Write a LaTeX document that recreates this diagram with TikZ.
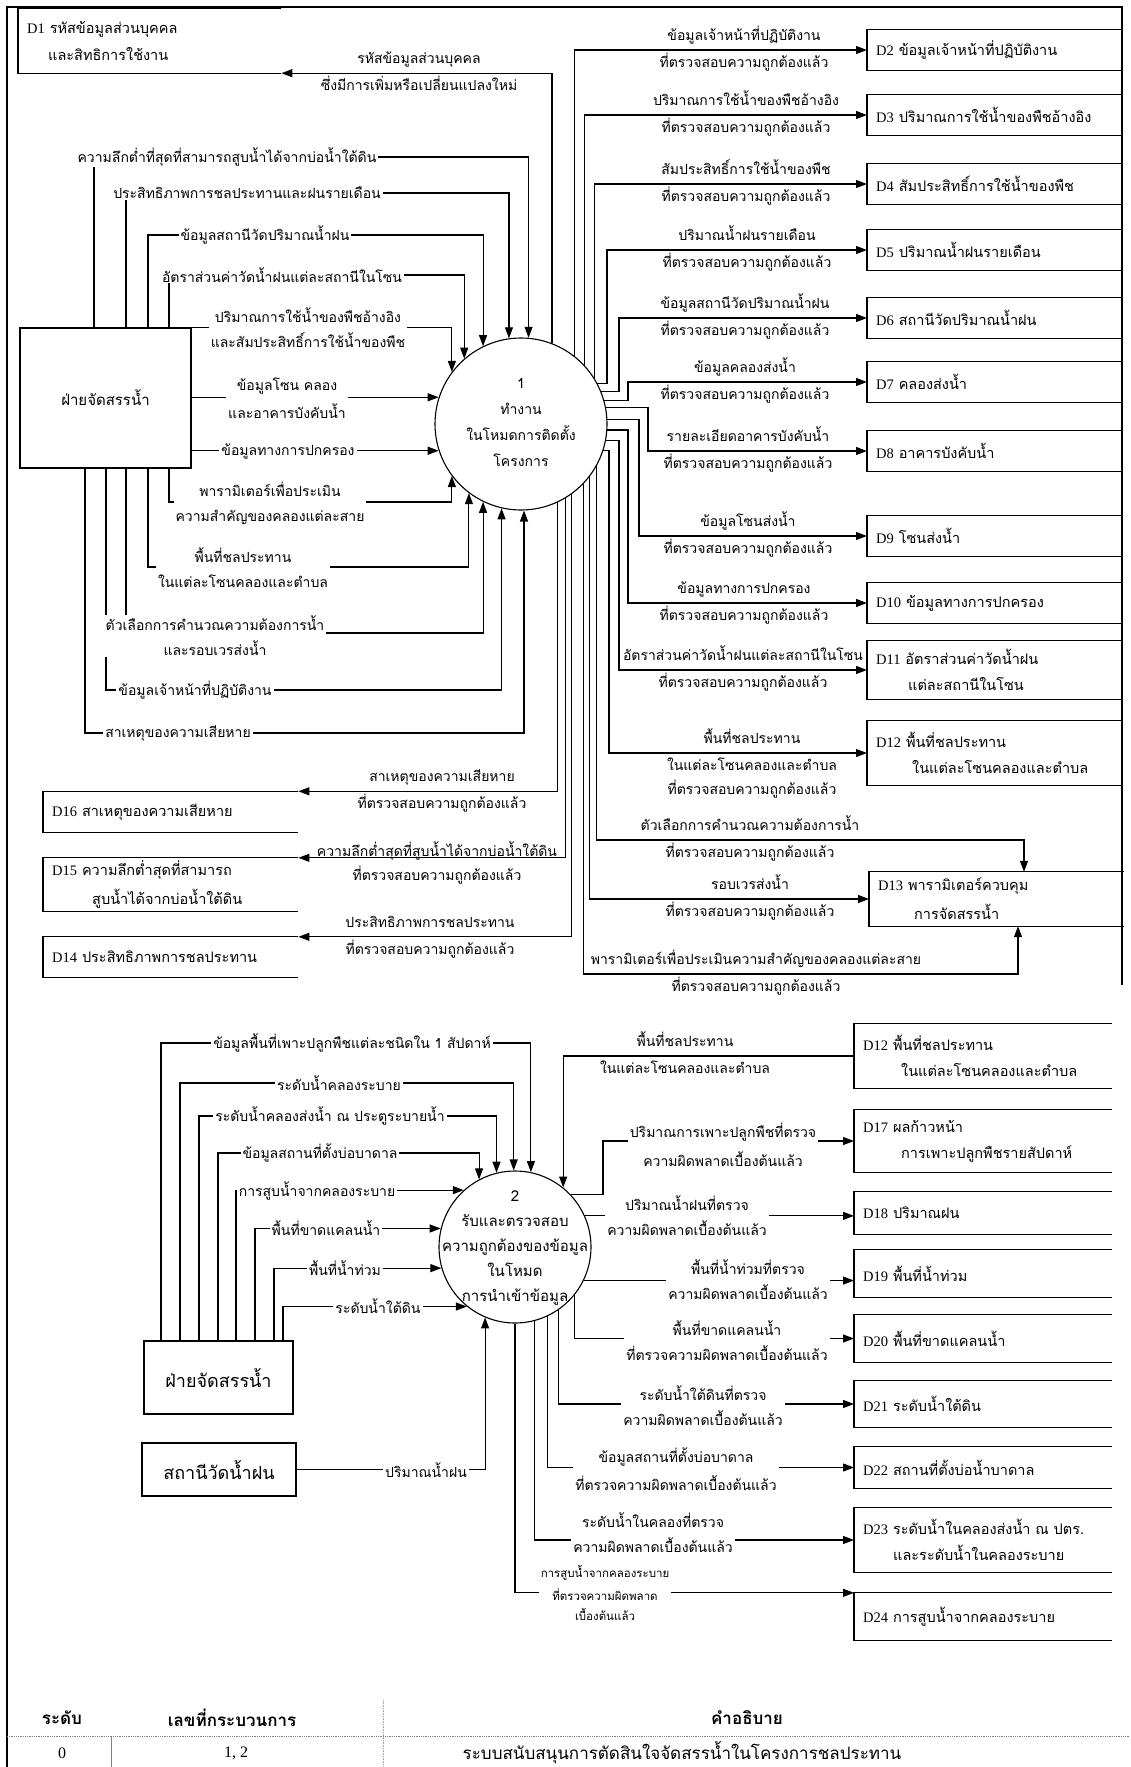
\documentclass[tikz,border=0pt]{standalone}
\usepackage{fontspec}
\usetikzlibrary{arrows.meta}
\newfontfamily\thf[Script=Thai]{Loma}
\newfontfamily\latf{Liberation Serif}
\newcommand\lf{\thf\fontsize{14}{16}\selectfont}
\newcommand\slf{\thf\fontsize{11.5}{13}\selectfont}
\newcommand\stf{\thf\fontsize{14.5}{17}\selectfont}
\newcommand\entf{\thf\fontsize{15}{18}\selectfont}
\newcommand\bentf{\thf\fontsize{18}{21}\selectfont}
\newcommand\cif{\thf\fontsize{14}{17}\selectfont}
\newcommand\citf{\thf\fontsize{15}{18}\selectfont}
\newcommand\tbh{\thf\bfseries\fontsize{17}{20}\selectfont}
\newcommand\tbr{\thf\fontsize{17}{20}\selectfont}
\newcommand\DD[1]{{\latf D#1}}
\tikzset{
 ln/.style={line width=1.1pt},
 flow/.style={line width=1.1pt,-{Triangle[length=11pt,width=8pt]}},
 la/.style={font=\lf, inner sep=0pt, anchor=base},
 wl/.style={font=\lf, fill=white, inner xsep=2pt, inner ysep=1pt, align=center},
 sto/.style={font=\stf, inner xsep=9pt, inner ysep=0pt, anchor=west, align=left},
 ent/.style={draw, line width=1.1pt, font=\entf},
}
\newcommand\openbox[1]{\draw[ln] (#1.north east) -- (#1.north west) -- (#1.south west) -- (#1.south east);}
\newcommand\lab[5]{\node[la] (#1a) at (#2,#3-10) {#4}; \node[la] (#1b) at (#2,#3+17) {#5};}
\begin{document}
\begin{tikzpicture}[x=1pt,y=-1pt]
\useasboundingbox (0,0) rectangle (1130,1767);
% frame
\draw[ln] (7,1767) -- (7,7) -- (1122,7) -- (1122,985);

% ---------- process 1 ----------
\node[circle, draw, ln, minimum size=172pt, inner sep=0pt] (c1) at (521,424) {};
\node[font=\cif, align=center] (t1) at (521,423) {1\\[9pt]ทำงาน\\[9pt]ในโหมดการติดตั้ง\\[9pt]โครงการ};

\node[ent, minimum width=171pt, minimum height=140pt] (E1) at (105.5,398) {ฝ่ายจัดสรรน้ำ};

% stores upper
\node[sto, text width=245pt, minimum height=64pt] (D1) at (18,41) {\DD1 รหัสข้อมูลส่วนบุคคล\\[10pt]\hspace*{21pt}และสิทธิการใช้งาน};
\openbox{D1}
\node[sto, text width=237pt, minimum height=41pt] (D2) at (867,50) {\DD2 ข้อมูลเจ้าหน้าที่ปฏิบัติงาน}; \openbox{D2}
\node[sto, text width=237pt, minimum height=41pt] (D3) at (867,115) {\DD3 ปริมาณการใช้น้ำของพืชอ้างอิง}; \openbox{D3}
\node[sto, text width=237pt, minimum height=41pt] (D4) at (867,184) {\DD4 สัมประสิทธิ์การใช้น้ำของพืช}; \openbox{D4}
\node[sto, text width=237pt, minimum height=40pt] (D5) at (867,250) {\DD5 ปริมาณน้ำฝนรายเดือน}; \openbox{D5}
\node[sto, text width=237pt, minimum height=41pt] (D6) at (867,318) {\DD6 สถานีวัดปริมาณน้ำฝน}; \openbox{D6}
\node[sto, text width=237pt, minimum height=40pt] (D7) at (867,382) {\DD7 คลองส่งน้ำ}; \openbox{D7}
\node[sto, text width=237pt, minimum height=41pt] (D8) at (867,451) {\DD8 อาคารบังคับน้ำ}; \openbox{D8}
\node[sto, text width=237pt, minimum height=41pt] (D9) at (867,536) {\DD9 โซนส่งน้ำ}; \openbox{D9}
\node[sto, text width=237pt, minimum height=40pt] (D10) at (867,603) {\DD{10} ข้อมูลทางการปกครอง}; \openbox{D10}
\node[sto, text width=237pt, minimum height=58pt] (D11) at (867,670) {\DD{11} อัตราส่วนค่าวัดน้ำฝน\\[9pt]\hspace*{32pt}แต่ละสถานีในโซน}; \openbox{D11}
\node[sto, text width=237pt, minimum height=64pt] (D12) at (867,753) {\DD{12} พื้นที่ชลประทาน\\[9pt]\hspace*{36pt}ในแต่ละโซนคลองและตำบล}; \openbox{D12}
\node[sto, text width=237pt, minimum height=54pt] (D13) at (869,899) {\DD{13} พารามิเตอร์ควบคุม\\[9pt]\hspace*{36pt}การจัดสรรน้ำ}; \openbox{D13}
\node[sto, text width=237pt, minimum height=41pt] (D16) at (43,812) {\DD{16} สาเหตุของความเสียหาย}; \openbox{D16}
\node[sto, text width=237pt, minimum height=53pt] (D15) at (43,884.5) {\DD{15} ความลึกต่ำสุดที่สามารถ\\[9pt]\hspace*{40pt}สูบน้ำได้จากบ่อน้ำใต้ดิน}; \openbox{D15}
\node[sto, text width=237pt, minimum height=40pt] (D14) at (43,957) {\DD{14} ประสิทธิภาพการชลประทาน}; \openbox{D14}

% outputs of process 1
\draw[flow] (c1.69) |- (D1.south east);
\draw[flow] (c1.52) |- (D2.west);
\draw[flow] (c1.43) |- (D3.west);
\draw[flow] (c1.32) |- (D4.west);
\draw[flow] (c1.28) -- (c1.28 -| 607,0) |- (D5.west);
\draw[flow] (c1.22) -- (c1.22 -| 619,0) |- (D6.west);
\draw[flow] (c1.16) -- (c1.16 -| 628,0) |- (D7.west);
\draw[flow] (c1.11) -- (c1.11 -| 648,0) |- (D8.west);
\draw[flow] (c1.3) -- (c1.3 -| 639,0) |- (D9.west);
\draw[flow] (c1.-4) -- (c1.-4 -| 628,0) |- (D10.west);
\draw[flow] (c1.-11) -- (c1.-11 -| 619,0) |- (D11.west);
\draw[flow] (c1.-18) -- (c1.-18 -| 609,0) |- (D12.west);
\draw[flow] (c1.-29) -- (c1.-29 |- 0,840) -| (D13.north -| 1024,0);
\draw[flow] (c1.-38) |- (D13.west);
\draw[flow] (c1.-44) -- (c1.-44 |- 0,974) -| (D13.south -| 1018,0);
\draw[flow] (c1.-54) |- (D14.north east);
\draw[flow] (c1.-59) |- (D15.north east);
\draw[flow] (c1.-65) |- (D16.north east);

% inputs of process 1
\draw[flow] (E1.north -| 94,0) -- (94,157) -| (c1.85);
\draw[flow] (E1.north -| 126,0) -- (126,193) -| (c1.98);
\draw[flow] (E1.north -| 148,0) -- (148,235) -| (c1.116);
\draw[flow] (E1.north -| 169,0) -- (169,275) -| (c1.131);
\draw[flow] (E1.north east) -| (c1.143);
\draw[flow] (c1.162 -| E1.east) -- (c1.162);
\draw[flow] (c1.198 -| E1.east) -- (c1.198);
\draw[flow] (E1.south -| 169,0) -- (169,502) -| (c1.-143);
\draw[flow] (E1.south -| 148,0) -- (148,567) -| (c1.-127);
\draw[flow] (E1.south -| 126,0) -- (126,633) -| (c1.-116);
\draw[flow] (E1.south -| 106,0) -- (106,690) -| (c1.-103);
\draw[flow] (E1.south -| 85,0) -- (85,733) -| (c1.-88);

% labels process 1 inputs
\node[wl] (w1) at (227,157) {ความลึกต่ำที่สุดที่สามารถสูบน้ำได้จากบ่อน้ำใต้ดิน};
\node[wl] (w2) at (247,193) {ประสิทธิภาพการชลประทานและฝนรายเดือน};
\node[wl] (w3) at (265,235) {ข้อมูลสถานีวัดปริมาณน้ำฝน};
\node[wl] (w4) at (282,275) {อัตราส่วนค่าวัดน้ำฝนแต่ละสถานีในโซน};
\node[wl] (w5) at (308,328) {ปริมาณการใช้น้ำของพืชอ้างอิง\\[9pt]และสัมประสิทธิ์การใช้น้ำของพืช};
\node[wl] (w6) at (287,398) {ข้อมูลโซน คลอง\\[9pt]และอาคารบังคับน้ำ};
\node[wl] (w7) at (288,451) {ข้อมูลทางการปกครอง};
\node[wl] (w8) at (270,503) {พารามิเตอร์เพื่อประเมิน\\[9pt]ความสำคัญของคลองแต่ละสาย};
\node[wl] (w9) at (243,568) {พื้นที่ชลประทาน\\[9pt]ในแต่ละโซนคลองและตำบล};
\node[wl] (w10) at (215,636) {ตัวเลือกการคำนวณความต้องการน้ำ\\[9pt]และรอบเวรส่งน้ำ};
\node[wl] (w11) at (195,690) {ข้อมูลเจ้าหน้าที่ปฏิบัติงาน};
\node[wl] (w12) at (178,733) {สาเหตุของความเสียหาย};

% labels process 1 outputs
\lab{o1}{419}{73}{รหัสข้อมูลส่วนบุคคล}{ซึ่งมีการเพิ่มหรือเปลี่ยนแปลงใหม่}
\lab{o2}{744}{50}{ข้อมูลเจ้าหน้าที่ปฏิบัติงาน}{ที่ตรวจสอบความถูกต้องแล้ว}
\lab{o3}{746}{115}{ปริมาณการใช้น้ำของพืชอ้างอิง}{ที่ตรวจสอบความถูกต้องแล้ว}
\lab{o4}{746}{184}{สัมประสิทธิ์การใช้น้ำของพืช}{ที่ตรวจสอบความถูกต้องแล้ว}
\lab{o5}{747}{250}{ปริมาณน้ำฝนรายเดือน}{ที่ตรวจสอบความถูกต้องแล้ว}
\lab{o6}{745}{318}{ข้อมูลสถานีวัดปริมาณน้ำฝน}{ที่ตรวจสอบความถูกต้องแล้ว}
\lab{o7}{745}{382}{ข้อมูลคลองส่งน้ำ}{ที่ตรวจสอบความถูกต้องแล้ว}
\lab{o8}{748}{451}{รายละเอียดอาคารบังคับน้ำ}{ที่ตรวจสอบความถูกต้องแล้ว}
\lab{o9}{748}{536}{ข้อมูลโซนส่งน้ำ}{ที่ตรวจสอบความถูกต้องแล้ว}
\lab{o10}{744}{603}{ข้อมูลทางการปกครอง}{ที่ตรวจสอบความถูกต้องแล้ว}
\lab{o11}{743}{670}{อัตราส่วนค่าวัดน้ำฝนแต่ละสถานีในโซน}{ที่ตรวจสอบความถูกต้องแล้ว}
\lab{o12}{752}{753}{พื้นที่ชลประทาน}{ในแต่ละโซนคลองและตำบล}
\node[la] (o12c) at (752,794) {ที่ตรวจสอบความถูกต้องแล้ว};
\lab{o13}{750}{840}{ตัวเลือกการคำนวณความต้องการน้ำ}{ที่ตรวจสอบความถูกต้องแล้ว}
\lab{o14}{750}{899}{รอบเวรส่งน้ำ}{ที่ตรวจสอบความถูกต้องแล้ว}
\lab{o15}{756}{974}{พารามิเตอร์เพื่อประเมินความสำคัญของคลองแต่ละสาย}{ที่ตรวจสอบความถูกต้องแล้ว}
\lab{o16}{442}{791.5}{สาเหตุของความเสียหาย}{ที่ตรวจสอบความถูกต้องแล้ว}
\node[la] (o17a) at (437,856) {ความลึกต่ำสุดที่สูบน้ำได้จากบ่อน้ำใต้ดิน};
\node[la] (o17b) at (437,880) {ที่ตรวจสอบความถูกต้องแล้ว};
\lab{o18}{430}{937}{ประสิทธิภาพการชลประทาน}{ที่ตรวจสอบความถูกต้องแล้ว}

% ---------- process 2 ----------
\node[circle, draw, ln, minimum size=152pt, inner sep=0pt] (c2) at (515,1247) {};
\node[font=\citf, align=center] (t2) at (515,1248) {2\\[7pt]รับและตรวจสอบ\\[7pt]ความถูกต้องของข้อมูล\\[7pt]ในโหมด\\[7pt]การนำเข้าข้อมูล};

\node[ent, font=\bentf, minimum width=149pt, minimum height=73pt] (E2) at (218.5,1377.5) {ฝ่ายจัดสรรน้ำ};
\node[ent, font=\bentf, minimum width=154pt, minimum height=53pt] (E3) at (219,1469.5) {สถานีวัดน้ำฝน};

\node[sto, text width=240pt, minimum height=64pt] (D12b) at (854,1056) {\DD{12} พื้นที่ชลประทาน\\[9pt]\hspace*{38pt}ในแต่ละโซนคลองและตำบล}; \openbox{D12b}
\node[sto, text width=240pt, minimum height=63pt] (D17) at (854,1141) {\DD{17} ผลก้าวหน้า\\[9pt]\hspace*{38pt}การเพาะปลูกพืชรายสัปดาห์}; \openbox{D17}
\node[sto, text width=240pt, minimum height=42pt] (D18) at (854,1213) {\DD{18} ปริมาณฝน}; \openbox{D18}
\node[sto, text width=240pt, minimum height=47pt] (D19) at (854,1273.5) {\DD{19} พื้นที่น้ำท่วม}; \openbox{D19}
\node[sto, text width=240pt, minimum height=47pt] (D20) at (854,1338.5) {\DD{20} พื้นที่ขาดแคลนน้ำ}; \openbox{D20}
\node[sto, text width=240pt, minimum height=46pt] (D21) at (854,1404) {\DD{21} ระดับน้ำใต้ดิน}; \openbox{D21}
\node[sto, text width=240pt, minimum height=41pt] (D22) at (854,1467.5) {\DD{22} สถานที่ตั้งบ่อน้ำบาดาล}; \openbox{D22}
\node[sto, text width=240pt, minimum height=64pt] (D23) at (854,1540) {\DD{23} ระดับน้ำในคลองส่งน้ำ ณ ปตร.\\[9pt]\hspace*{30pt}และระดับน้ำในคลองระบาย}; \openbox{D23}
\node[sto, text width=240pt, minimum height=47pt] (D24) at (854,1616.5) {\DD{24} การสูบน้ำจากคลองระบาย}; \openbox{D24}

% inputs process 2
\draw[flow] (E2.north -| 161,0) -- (161,1043) -| (c2.78);
\draw[flow] (E2.north -| 180,0) -- (180,1083) -| (c2.91);
\draw[flow] (E2.north -| 199,0) -- (199,1116) -| (c2.104);
\draw[flow] (E2.north -| 218,0) -- (218,1153) -| (c2.118);
\draw[flow] (E2.north -| 236,0) |- (c2.132);
\draw[flow] (E2.north -| 255,0) |- (c2.166);
\draw[flow] (E2.north -| 274,0) |- (c2.196);
\draw[flow] (E2.north -| 283,0) |- (c2.231);
\draw[flow] (E3.east) -| (c2.-113);
\draw[flow] (D12b.west) -| (c2.51);

% outputs process 2
\draw[flow] (c2.43) -- (c2.43 -| 603,0) |- (D17.west);
\draw[flow] (c2.24) -- (c2.24 -| D18.west);
\draw[flow] (c2.-26) -- (c2.-26 -| D19.west);
\draw[flow] (c2.-39) |- (D20.west);
\draw[flow] (c2.-55) |- (D21.west);
\draw[flow] (c2.-65) |- (D22.west);
\draw[flow] (c2.-75) |- (D23.west);
\draw[flow] (c2.south) |- (D24.north west);

% labels process 2
\node[wl] (v1) at (352,1043) {ข้อมูลพื้นที่เพาะปลูกพืชแต่ละชนิดใน 1 สัปดาห์};
\node[wl] (v2) at (339,1083) {ระดับน้ำคลองระบาย};
\node[wl] (v3) at (330,1116) {ระดับน้ำคลองส่งน้ำ ณ ประตูระบายน้ำ};
\node[wl] (v4) at (320,1153) {ข้อมูลสถานที่ตั้งบ่อบาดาล};
\node[wl] (v5) at (317,1191) {การสูบน้ำจากคลองระบาย};
\node[wl] (v6) at (326,1228) {พื้นที่ขาดแคลนน้ำ};
\node[wl] (v7) at (345,1268) {พื้นที่น้ำท่วม};
\node[wl] (v8) at (378,1306) {ระดับน้ำใต้ดิน};
\node[wl] (v9) at (426,1470) {ปริมาณน้ำฝน};
\lab{p1}{685}{1056}{พื้นที่ชลประทาน}{ในแต่ละโซนคลองและตำบล}
\node[wl] (p2) at (723,1145) {ปริมาณการเพาะปลูกพืชที่ตรวจ\\[9pt]ความผิดพลาดเบื้องต้นแล้ว};
\node[wl] (p3) at (687,1216) {ปริมาณน้ำฝนที่ตรวจ\\[9pt]ความผิดพลาดเบื้องต้นแล้ว};
\node[wl] (p4) at (748,1280) {พื้นที่น้ำท่วมที่ตรวจ\\[9pt]ความผิดพลาดเบื้องต้นแล้ว};
\node[wl] (p5) at (727,1341) {พื้นที่ขาดแคลนน้ำ\\[9pt]ที่ตรวจความผิดพลาดเบื้องต้นแล้ว};
\node[wl] (p6) at (703,1406) {ระดับน้ำใต้ดินที่ตรวจ\\[9pt]ความผิดพลาดเบื้องต้นแล้ว};
\node[wl] (p7) at (676,1469) {ข้อมูลสถานที่ตั้งบ่อบาดาล\\[9pt]ที่ตรวจความผิดพลาดเบื้องต้นแล้ว};
\node[wl] (p8) at (653,1533) {ระดับน้ำในคลองที่ตรวจ\\[9pt]ความผิดพลาดเบื้องต้นแล้ว};
\node[wl, font=\slf] (p9) at (605,1593) {การสูบน้ำจากคลองระบาย\\[7pt]ที่ตรวจความผิดพลาด\\[7pt]เบื้องต้นแล้ว};

% ---------- table ----------
\node[font=\tbh] (h1) at (62,1718) {ระดับ};
\node[font=\tbh] (h2) at (232,1718) {เลขที่กระบวนการ};
\node[font=\tbh] (h3) at (747,1718) {คำอธิบาย};
\draw[gray, densely dotted, line width=0.8pt] (7,1736) -- (1130,1736);
\draw[gray, line width=0.6pt] (111,1736) -- (111,1767);
\draw[gray!70, densely dotted, line width=0.6pt] (383,1700) -- (383,1767);
\node[font=\latf\fontsize{16}{19}\selectfont] (r1) at (62,1753) {0};
\node[font=\latf\fontsize{16}{19}\selectfont] (r2) at (236,1753) {1, 2};
\node[font=\tbr] (r3) at (682,1753) {ระบบสนับสนุนการตัดสินใจจัดสรรน้ำในโครงการชลประทาน};
\end{tikzpicture}
\end{document}
